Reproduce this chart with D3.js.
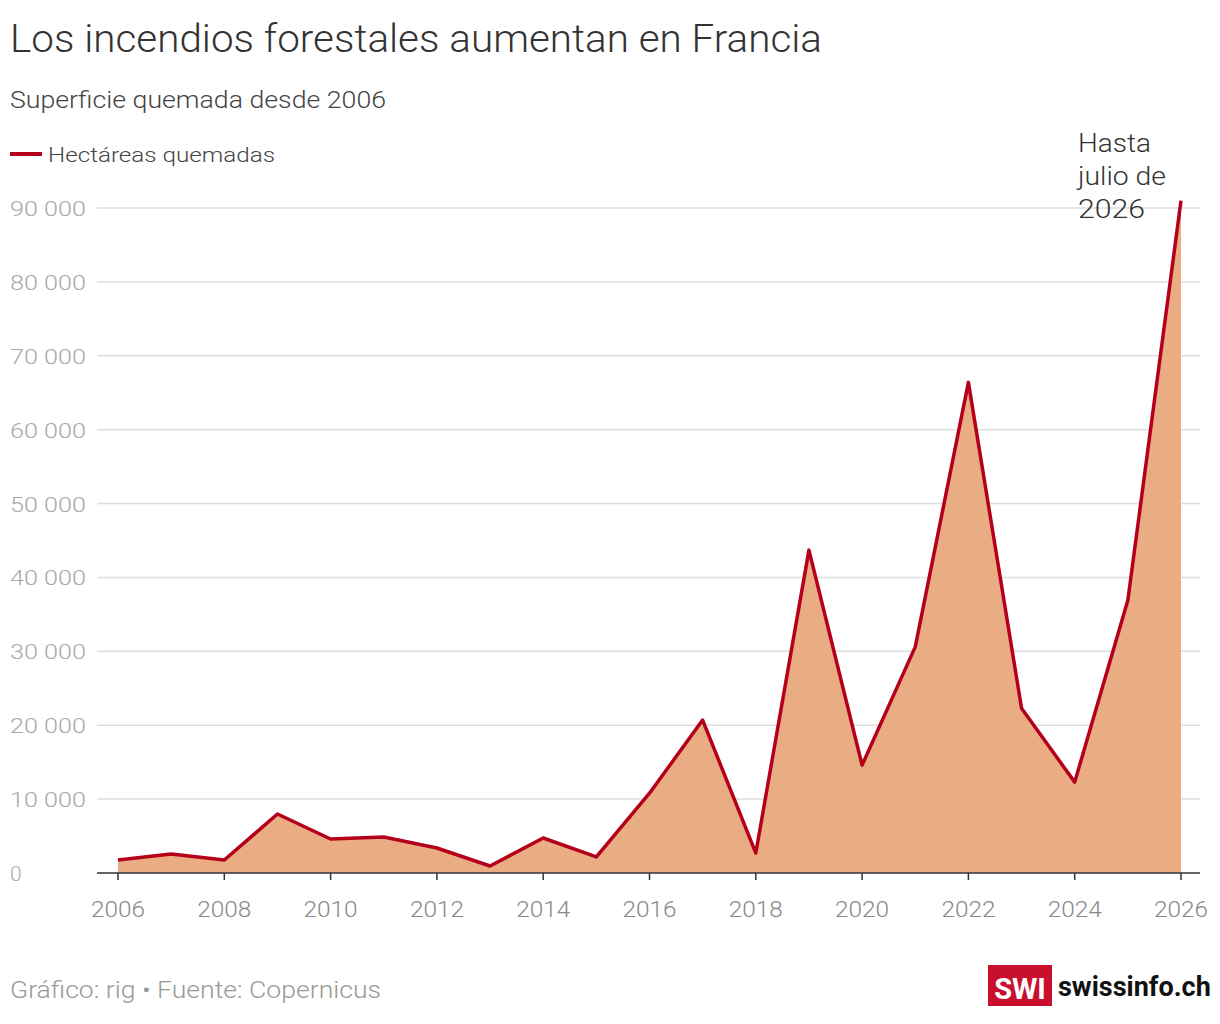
<!DOCTYPE html>
<html><head><meta charset="utf-8">
<script src="https://cdn.jsdelivr.net/npm/d3@7"></script>
<style>body{margin:0;background:#fff;font-family:Roboto,sans-serif}</style>
</head><body><svg id="c" width="1220" height="1024"></svg>
<script>
const years=[2006,2007,2008,2009,2010,2011,2012,2013,2014,2015,2016,2017,2018,2019,2020,2021,2022,2023,2024,2025,2026];
const hectares=[1760,2570,1760,7980,4600,4870,3380,950,4740,2170,10800,20700,2700,43700,14600,30600,66400,22300,12300,36900,91000];
const yTicks=[0,10000,20000,30000,40000,50000,60000,70000,80000,90000];
const xTicks=[2006,2008,2010,2012,2014,2016,2018,2020,2022,2024,2026];
const data=years.map((y,i)=>({y,v:hectares[i]}));
const svg=d3.select("#c");
const x=d3.scaleLinear().domain([2006,2026]).range([118,1181]);
const y=d3.scaleLinear().domain([0,90000]).range([873,208]);
const fmt=d=>d3.format(",")(d).replace(/,/g," ");
function txt(xx,yy,s,size,fill,len,extra){const t=svg.append("text").attr("x",xx).attr("y",yy).attr("font-size",size).attr("fill",fill).attr("font-weight",300).text(s);if(len)t.attr("textLength",len).attr("lengthAdjust","spacingAndGlyphs");return t;}
txt(10,52,"Los incendios forestales aumentan en Francia",38,"#333",812);
txt(10,108,"Superficie quemada desde 2006",23,"#444",376);
svg.append("line").attr("x1",10).attr("x2",42).attr("y1",154).attr("y2",154).attr("stroke","#b5001c").attr("stroke-width",4);
txt(48,162,"Hectáreas quemadas",21,"#444",227);
yTicks.forEach(t=>{
  if(t>0) svg.append("line").attr("x1",97).attr("x2",1200).attr("y1",y(t)).attr("y2",y(t)).attr("stroke","#ddd").attr("stroke-width",1.5);
  txt(10,y(t)+8,fmt(t),21,"#a8a8a8",t>0?(t>=10000?76:null):null);
});
svg.append("path").datum(data).attr("fill","#eaac82").attr("d",d3.area().x(d=>x(d.y)).y0(y(0)).y1(d=>y(d.v)));
svg.append("path").datum(data).attr("fill","none").attr("stroke","#b5001c").attr("stroke-width",3.5).attr("stroke-linejoin","round").attr("d",d3.line().x(d=>x(d.y)).y(d=>y(d.v)));
svg.append("line").attr("x1",97).attr("x2",1200).attr("y1",873).attr("y2",873).attr("stroke","#333").attr("stroke-width",1.5);
xTicks.forEach(t=>{
  svg.append("line").attr("x1",x(t)).attr("x2",x(t)).attr("y1",873).attr("y2",880).attr("stroke","#333").attr("stroke-width",1.5);
  txt(x(t),917,t,22,"#888",54).attr("text-anchor","middle");
});
["Hasta","julio de","2026"].forEach((s,i)=>txt(1078,152+i*33,s,25,"#333",[73,88,67][i]));
txt(10,998,"Gráfico: rig • Fuente: Copernicus",23,"#999",371);
svg.append("rect").attr("x",988).attr("y",965).attr("width",64).attr("height",41).attr("fill","#c8102e");
svg.append("text").attr("x",1020).attr("y",999).attr("text-anchor","middle").attr("font-size",29).attr("font-weight","bold").attr("fill","#fff").text("SWI");
svg.append("text").attr("x",1058).attr("y",996).attr("font-size",27).attr("font-weight","bold").attr("fill","#111").text("swissinfo.ch");
</script></body></html>
